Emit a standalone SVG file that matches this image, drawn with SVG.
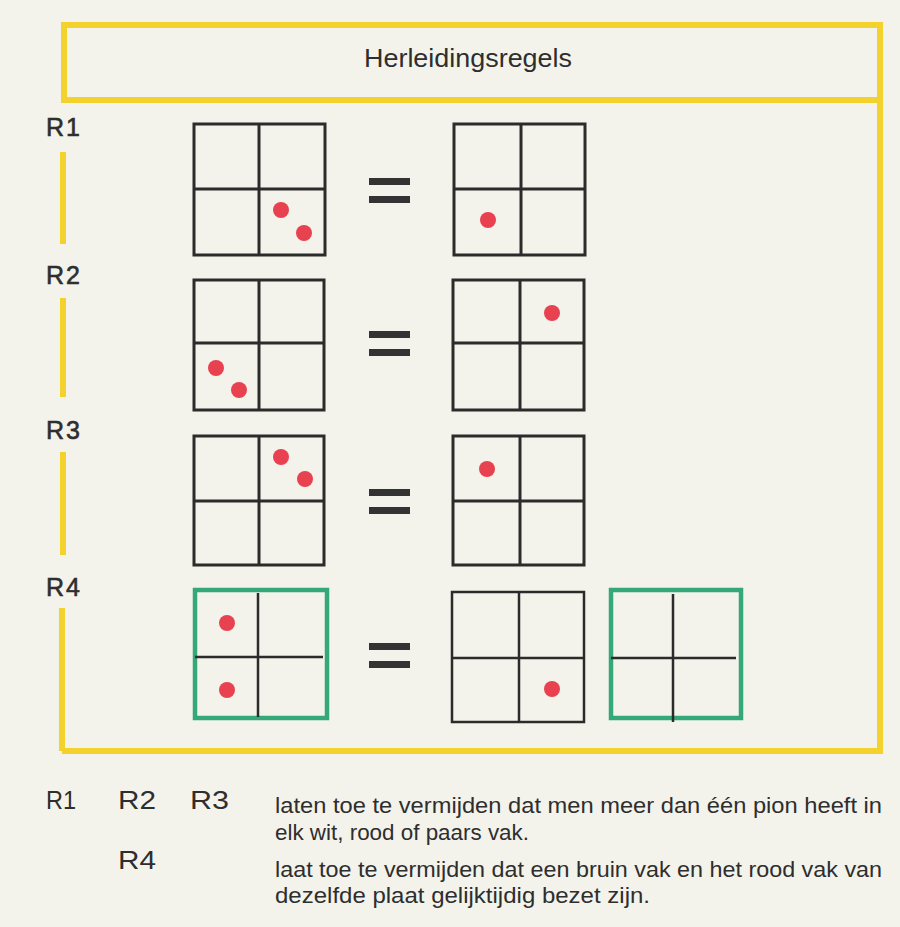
<svg xmlns="http://www.w3.org/2000/svg" width="900" height="927" viewBox="0 0 900 927">
<style>
.frame{fill:none;stroke:#f3d22e;stroke-width:6}
.grid{fill:none;stroke:#2b2b2b;stroke-width:3}
.thin{fill:none;stroke:#2b2b2b;stroke-width:2.5}
.cross{stroke:#2b2b2b;stroke-width:2.5}
.green{fill:none;stroke:#35a879;stroke-width:4.5}
.dot{fill:#e8414f}
.eq{fill:#333333}
.lbl{font-family:"Liberation Sans",Arial,sans-serif;font-size:25px;fill:#2e2e2e;stroke:#2e2e2e;stroke-width:0.6;letter-spacing:2px}
.leg{font-family:"Liberation Sans",Arial,sans-serif;font-size:26px;fill:#2e2e2e}
.body{font-family:"Liberation Sans",Arial,sans-serif;font-size:22px;fill:#2e2e2e}
.title{font-family:"Liberation Sans",Arial,sans-serif;font-size:26px;fill:#2e2e2e}
</style>
<defs>
<g id="eqs"><rect x="369" y="0" width="41" height="7" class="eq"/><rect x="369" y="18" width="41" height="7" class="eq"/></g>
</defs>
<rect width="900" height="927" fill="#f3f3ec"/>
<g id="frame">
<rect x="64" y="25" width="816" height="75" class="frame"/>
<polyline points="880,100 880,751 62,751" class="frame"/>
<line x1="63" y1="152" x2="63" y2="244" class="frame"/>
<line x1="63" y1="298" x2="63" y2="397" class="frame"/>
<line x1="63" y1="452" x2="63" y2="555" class="frame"/>
<line x1="62" y1="608" x2="62" y2="751" class="frame"/>
</g>
<g id="title"><text x="468" y="67" text-anchor="middle" class="title" textLength="208" lengthAdjust="spacingAndGlyphs">Herleidingsregels</text></g>
<g id="labels">
<text x="46" y="136" class="lbl">R1</text>
<text x="46" y="284" class="lbl">R2</text>
<text x="46" y="439" class="lbl">R3</text>
<text x="46" y="596" class="lbl">R4</text>
</g>
<g id="r1">
<rect x="194" y="124" width="131" height="131" class="grid"/>
<line x1="259" y1="124" x2="259" y2="255" class="grid"/><line x1="194" y1="189" x2="325" y2="189" class="grid"/>
<circle cx="281" cy="210" r="8" class="dot"/><circle cx="304" cy="233" r="8" class="dot"/>
<use href="#eqs" y="178"/>
<rect x="454" y="124" width="131" height="131" class="grid"/>
<line x1="521" y1="124" x2="521" y2="255" class="grid"/><line x1="454" y1="189" x2="585" y2="189" class="grid"/>
<circle cx="488" cy="220" r="8" class="dot"/>
</g>
<g id="r2">
<rect x="194" y="280" width="130" height="130" class="grid"/>
<line x1="259" y1="280" x2="259" y2="410" class="grid"/><line x1="194" y1="343" x2="324" y2="343" class="grid"/>
<circle cx="216" cy="368" r="8" class="dot"/><circle cx="239" cy="390" r="8" class="dot"/>
<use href="#eqs" y="331"/>
<rect x="453" y="280" width="131" height="130" class="grid"/>
<line x1="520" y1="280" x2="520" y2="410" class="grid"/><line x1="453" y1="343" x2="584" y2="343" class="grid"/>
<circle cx="552" cy="313" r="8" class="dot"/>
</g>
<g id="r3">
<rect x="194" y="436" width="130" height="129" class="grid"/>
<line x1="259" y1="436" x2="259" y2="565" class="grid"/><line x1="194" y1="501" x2="324" y2="501" class="grid"/>
<circle cx="281" cy="457" r="8" class="dot"/><circle cx="305" cy="479" r="8" class="dot"/>
<use href="#eqs" y="489"/>
<rect x="453" y="436" width="131" height="129" class="grid"/>
<line x1="520" y1="436" x2="520" y2="565" class="grid"/><line x1="453" y1="501" x2="584" y2="501" class="grid"/>
<circle cx="487" cy="469" r="8" class="dot"/>
</g>
<g id="r4">
<rect x="195" y="590" width="132" height="128" class="green"/>
<line x1="258" y1="593" x2="258" y2="717" class="cross"/><line x1="195" y1="657" x2="323" y2="657" class="cross"/>
<circle cx="227" cy="623" r="8" class="dot"/><circle cx="227" cy="690" r="8" class="dot"/>
<use href="#eqs" y="643"/>
<rect x="452" y="592" width="132" height="130" class="thin"/>
<line x1="519" y1="592" x2="519" y2="722" class="thin"/><line x1="452" y1="658" x2="584" y2="658" class="thin"/>
<circle cx="552" cy="689" r="8" class="dot"/>
<rect x="611" y="590" width="130" height="128" class="green"/>
<line x1="673" y1="594" x2="673" y2="722" class="cross"/><line x1="611" y1="658" x2="736" y2="658" class="cross"/>
</g>
<g id="legend">
<text x="46" y="809" class="leg" textLength="30" lengthAdjust="spacingAndGlyphs">R1</text>
<text x="118" y="809" class="leg" textLength="38" lengthAdjust="spacingAndGlyphs">R2</text>
<text x="190" y="809" class="leg" textLength="39" lengthAdjust="spacingAndGlyphs">R3</text>
<text x="118" y="869" class="leg" textLength="38" lengthAdjust="spacingAndGlyphs">R4</text>
<text x="275" y="813" class="body" textLength="607" lengthAdjust="spacingAndGlyphs">laten toe te vermijden dat men meer dan één pion heeft in</text>
<text x="275" y="840" class="body" textLength="254" lengthAdjust="spacingAndGlyphs">elk wit, rood of paars vak.</text>
<text x="275" y="877" class="body" textLength="607" lengthAdjust="spacingAndGlyphs">laat toe te vermijden dat een bruin vak en het rood vak van</text>
<text x="275" y="903" class="body" textLength="375" lengthAdjust="spacingAndGlyphs">dezelfde plaat gelijktijdig bezet zijn.</text>
</g>
</svg>
